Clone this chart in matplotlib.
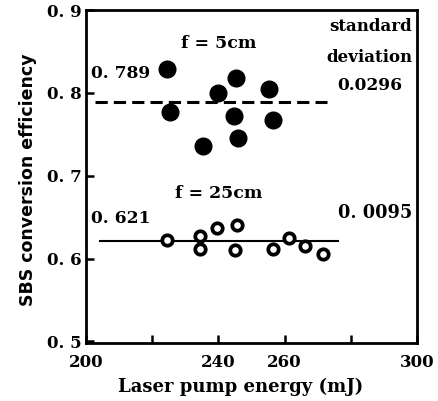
import numpy as np
import matplotlib
matplotlib.use("Agg")
import matplotlib.pyplot as plt

# f = 5cm (filled dots)
e5 = [224.5, 225.4, 235.3, 239.9, 245.3, 244.7, 245.9, 255.3, 256.5]
eff5 = [0.829, 0.777, 0.736, 0.800, 0.818, 0.772, 0.746, 0.805, 0.767]
mean5 = 0.789
span5 = [202.7, 272.8]

# f = 25cm (open circles)
e25 = [224.5, 234.4, 234.4, 239.6, 245.6, 245.0, 256.5, 261.3, 266.2, 271.6]
eff25 = [0.622, 0.627, 0.611, 0.637, 0.641, 0.610, 0.611, 0.625, 0.615, 0.606]
mean25 = 0.621
span25 = [204.2, 276.1]

xticks = [200, 220, 240, 260, 280, 300]
xlabels = ['200', '', '240', '260', '', '300']
yticks = [0.5, 0.6, 0.7, 0.8, 0.9]
ylabels = ['0. 5', '0. 6', '0. 7', '0. 8', '0. 9']

plt.rcParams['font.family'] = ['DejaVu Serif']
plt.rcParams['font.weight'] = 'bold'
plt.rcParams['axes.labelweight'] = 'bold'

fig = plt.figure(figsize=(4.39, 4.01), dpi=100)
ax = fig.add_axes([0.196, 0.1446, 0.754, 0.8304])

ax.plot(span5, [mean5, mean5], color='black', lw=2.2, ls=(0, (4, 2)))
ax.plot(span25, [mean25, mean25], color='black', lw=1.5)
ax.plot(e5, eff5, 'o', color='black', ms=12, ls='none')
ax.plot(e25, eff25, 'o', mfc='white', mec='black', mew=2.7, ms=7.5, ls='none')

ax.set_xlim(200, 300)
ax.set_ylim(0.498, 0.897)
ax.set_xticks(xticks)
ax.set_xticklabels(xlabels)
ax.set_yticks(yticks)
ax.set_yticklabels(ylabels)
ax.tick_params(direction='in', length=6, width=1.8, labelsize=12)
ax.tick_params(axis='x', pad=8)
ax.tick_params(axis='y', pad=3)
for s in ax.spines.values():
    s.set_linewidth(2)

ax.set_ylabel('SBS conversion efficiency', fontsize=12.5, family='DejaVu Sans')
ax.yaxis.set_label_coords(-0.148, 0.49)
ax.set_xlabel('Laser pump energy (mJ)', fontsize=13)
ax.xaxis.set_label_coords(0.468, -0.105)

ax.text(240, 0.860, 'f = 5cm', ha='center', va='center', fontsize=12.5)
ax.text(240, 0.678, 'f = 25cm', ha='center', va='center', fontsize=12.5)
ax.text(201.5, 0.823, '0. 789', ha='left', va='center', fontsize=12.3)
ax.text(201.5, 0.648, '0. 621', ha='left', va='center', fontsize=12.3)
ax.text(298.5, 0.880, 'standard', ha='right', va='center', fontsize=12)
ax.text(298.5, 0.843, 'deviation', ha='right', va='center', fontsize=12)
ax.text(295.5, 0.809, '0.0296', ha='right', va='center', fontsize=12.3)
ax.text(298.5, 0.655, '0. 0095', ha='right', va='center', fontsize=12.8)

fig.savefig('out.png', dpi=100)
